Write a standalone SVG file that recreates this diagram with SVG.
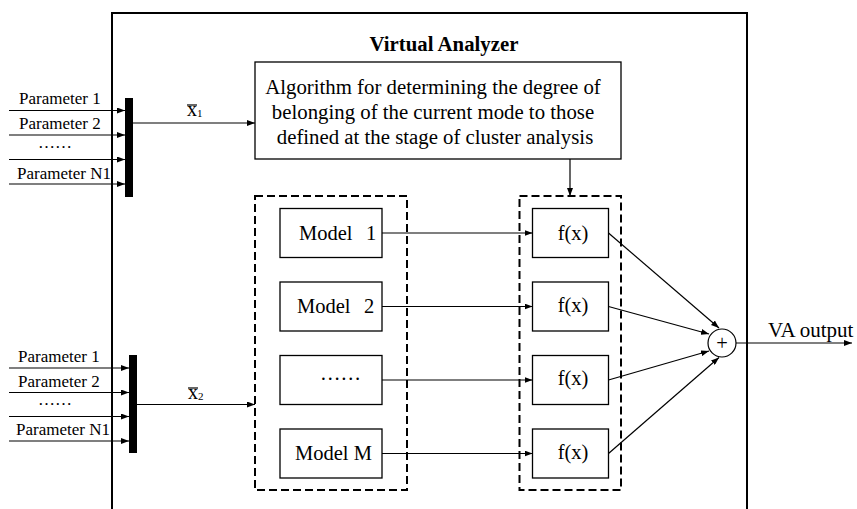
<svg xmlns="http://www.w3.org/2000/svg" width="857" height="509" viewBox="0 0 857 509" font-family="'Liberation Serif','Times New Roman',serif">
<defs>
<marker id="ah" markerWidth="8" markerHeight="6" refX="8" refY="3" orient="auto" markerUnits="userSpaceOnUse">
<path d="M0,0 L8,3 L0,6 Z" fill="#000"/>
</marker>
<style>
text{font-family:'Liberation Serif','Times New Roman',serif;fill:#000}
.t20{font-size:20.5px}
.t17{font-size:17px}
.box{fill:#fff;stroke:#000;stroke-width:1.3}
.dash{fill:none;stroke:#000;stroke-width:2;stroke-dasharray:8,4}
.ln{fill:none;stroke:#000;stroke-width:1.2}
.ar{fill:none;stroke:#000;stroke-width:1.2;marker-end:url(#ah)}
.bar{fill:#000}
</style>
</defs>
<rect width="857" height="509" fill="#fff"/>
<g id="virtual-analyzer">
<path d="M112,515 V13 H747 V515" fill="none" stroke="#000" stroke-width="2"/>
<text x="444" y="51" text-anchor="middle" style="font-size:20.8px;font-weight:bold">Virtual Analyzer</text>
</g>
<g id="inputs1">
<text class="t17" x="19" y="104">Parameter 1</text>
<text class="t17" x="19" y="129">Parameter 2</text>
<text class="t17" x="38" y="148">……</text>
<text class="t17" x="17" y="179">Parameter N1</text>
<rect class="bar" x="125" y="98" width="8" height="99"/>
</g>
<g id="inputs2">
<text class="t17" x="18" y="362">Parameter 1</text>
<text class="t17" x="18" y="387">Parameter 2</text>
<text class="t17" x="38" y="405">……</text>
<text class="t17" x="16" y="435">Parameter N1</text>
<rect class="bar" x="129" y="355" width="8" height="98"/>
</g>
<g id="algorithm">
<rect class="box" x="255" y="62" width="366" height="97"/>
<text x="433" y="94" text-anchor="middle" style="font-size:20.8px">Algorithm for determining the degree of</text>
<text x="433" y="119" text-anchor="middle" style="font-size:20.8px">belonging of the current mode to those</text>
<text x="435" y="144" text-anchor="middle" style="font-size:20.8px">defined at the stage of cluster analysis</text>
</g>
<g id="models-group">
<rect class="dash" x="255" y="196" width="152" height="294"/>
</g>
<g id="model1">
<rect class="box" x="280" y="208.5" width="102" height="49"/>
<text class="t20" x="299" y="240">Model<tspan x="366">1</tspan></text>
</g>
<g id="model2">
<rect class="box" x="280" y="282" width="102" height="49"/>
<text class="t20" x="297" y="313">Model<tspan x="364">2</tspan></text>
</g>
<g id="model-dots">
<rect class="box" x="280" y="355.5" width="102" height="49"/>
<text class="t20" x="320" y="380">……</text>
</g>
<g id="modelM">
<rect class="box" x="280" y="429" width="102" height="49"/>
<text class="t20" x="295" y="460">Model M</text>
</g>
<g id="f-group">
<rect class="dash" x="519.5" y="196" width="101.5" height="294"/>
</g>
<g id="f1">
<rect class="box" x="532.5" y="208.5" width="76" height="49"/>
<text class="t20" x="573" y="240" text-anchor="middle">f(x)</text>
</g>
<g id="f2">
<rect class="box" x="532.5" y="282" width="76" height="49"/>
<text class="t20" x="573" y="312" text-anchor="middle">f(x)</text>
</g>
<g id="f3">
<rect class="box" x="532.5" y="355.5" width="76" height="49"/>
<text class="t20" x="573" y="385" text-anchor="middle">f(x)</text>
</g>
<g id="f4">
<rect class="box" x="532.5" y="429" width="76" height="49"/>
<text class="t20" x="573" y="459" text-anchor="middle">f(x)</text>
</g>
<g id="sum">
<circle cx="722" cy="343" r="14" fill="#fff" stroke="#000" stroke-width="1.2"/>
<text class="t20" x="722" y="350" text-anchor="middle">+</text>
</g>
<g id="connectors">
<line class="ar" x1="9" y1="110.5" x2="125" y2="110.5"/>
<line class="ar" x1="9" y1="135" x2="125" y2="135"/>
<line class="ar" x1="9" y1="159.5" x2="125" y2="159.5"/>
<line class="ar" x1="9" y1="184" x2="125" y2="184"/>
<line class="ar" x1="133" y1="123" x2="255" y2="123"/>
<line class="ar" x1="9" y1="368" x2="129" y2="368"/>
<line class="ar" x1="9" y1="392.5" x2="129" y2="392.5"/>
<line class="ar" x1="9" y1="416.5" x2="129" y2="416.5"/>
<line class="ar" x1="9" y1="441" x2="129" y2="441"/>
<line class="ar" x1="137" y1="404.5" x2="255" y2="404.5"/>
<line class="ar" x1="570" y1="159" x2="570" y2="196"/>
<line class="ar" x1="382" y1="233" x2="532.5" y2="233"/>
<line class="ar" x1="382" y1="306.5" x2="532.5" y2="306.5"/>
<line class="ar" x1="382" y1="380" x2="532.5" y2="380"/>
<line class="ar" x1="382" y1="453.5" x2="532.5" y2="453.5"/>
<line class="ar" x1="608.5" y1="233" x2="719" y2="328"/>
<line class="ar" x1="608.5" y1="306.5" x2="709" y2="334"/>
<line class="ar" x1="608.5" y1="380" x2="709" y2="351"/>
<line class="ar" x1="608.5" y1="453.5" x2="719" y2="357.5"/>
<line class="ar" x1="736" y1="343" x2="852" y2="343"/>
<text x="768" y="337" style="font-size:21px">VA output</text>
<line class="ln" x1="187" y1="105" x2="197" y2="105"/>
<text x="187" y="116" style="font-size:20px">x<tspan style="font-size:11px" dy="1">1</tspan></text>
<line class="ln" x1="188" y1="388" x2="198" y2="388"/>
<text x="188" y="399" style="font-size:20px">x<tspan style="font-size:11px" dy="1">2</tspan></text>
</g>
</svg>
